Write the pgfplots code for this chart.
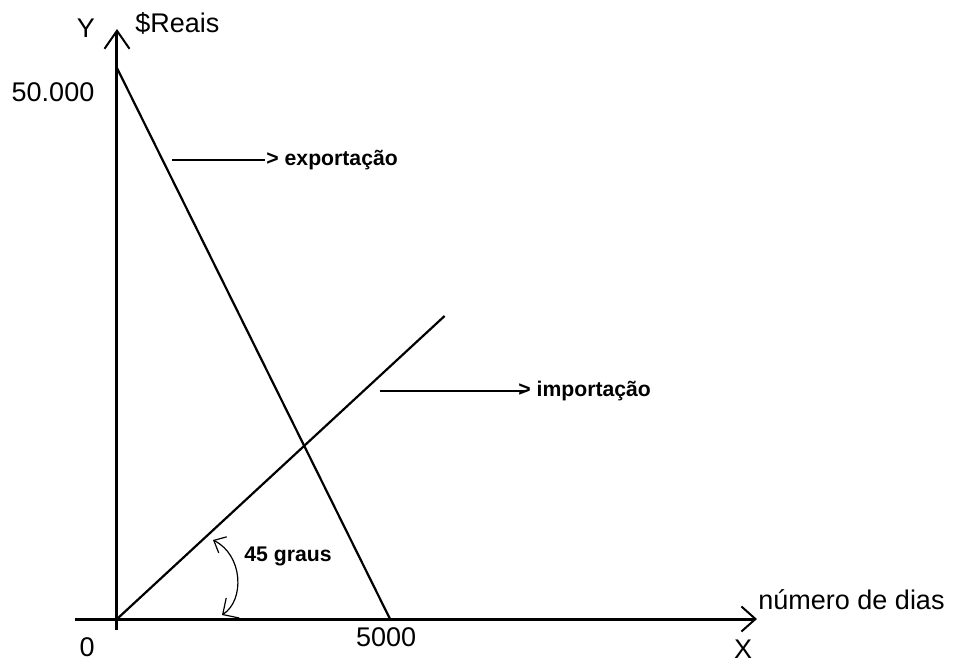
\documentclass[border=0pt]{standalone}
\usepackage{fontspec}
\setmainfont{Liberation Sans}
\usepackage{pgfplots}
\pgfplotsset{compat=1.18}
\usetikzlibrary{arrows.meta}

\newcommand{\lbl}{\fontsize{13.5}{16}\selectfont}
\newcommand{\blbl}{\fontsize{10.6}{13}\selectfont\bfseries}

\begin{document}
\begin{tikzpicture}
% page = 954x666 px at 0.5pt per px, origin of the axis at px (117,619)
\useasboundingbox (-58.5pt,-23.5pt) rectangle (418.5pt,309.5pt);
\begin{axis}[
    at={(0pt,0pt)}, anchor=origin,
    scale only axis,
    width=341pt, height=300.5pt,
    xmin=-770, xmax=11720,
    ymin=-1000, ymax=53540,
    axis lines=middle,
    x axis line style={line width=1.5pt, -{Straight Barb[length=7pt,width=12.5pt,line width=1pt]}},
    y axis line style={line width=1.5pt, -{Straight Barb[length=9pt,width=12.5pt,line width=1pt]}},
    xtick=\empty, ytick=\empty,
    clip=false,
]
% exportacao
\addplot[black, line width=1.1pt] coordinates {(0,50000) (5000,0)};
% importacao
\addplot[black, line width=1.1pt] coordinates {(0,0) (6000,27500)};

% axis texts
\node[inner sep=0] at (axis cs:-568,53630) {\lbl Y};
\node[anchor=west, inner sep=0] at (axis cs:330,54084) {\lbl \$Reais};
\node[inner sep=0] at (axis cs:-1172,47822) {\lbl 50.000};
\node[inner sep=0] at (axis cs:-549,-2541) {\lbl 0};
\node[inner sep=0] at (axis cs:4927,-1633) {\lbl 5000};
\node[inner sep=0] at (axis cs:11465,-2760) {\lbl X};
\node[anchor=west, inner sep=0] at (axis cs:11740,1724) {\lbl número de dias};

% labels of the two lines
\draw[line width=1.3pt] (axis cs:1007,41650) -- (axis cs:2711,41650);
\node[anchor=west, inner sep=0.5pt] at (axis cs:2711,41650) {\blbl > exportação};
\draw[line width=1.3pt] (axis cs:4817,20690) -- (axis cs:7509,20690);
\node[anchor=west, inner sep=0pt] at (axis cs:7344,20690) {\blbl > importação};

% angle
\draw[line width=0.6pt, {Straight Barb[length=5pt,width=9pt]}-{Straight Barb[length=6pt,width=12pt]}]
    (axis cs:1758,7169) .. controls (axis cs:2308,5808) and (axis cs:2344,1724) .. (axis cs:1923,363);
\node[inner sep=0] at (axis cs:3132,5717) {\blbl 45 graus};
\end{axis}
\end{tikzpicture}
\end{document}
